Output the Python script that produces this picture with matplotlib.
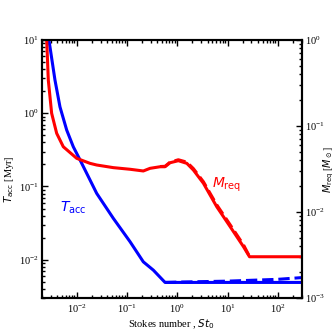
import matplotlib
matplotlib.use("Agg")
import matplotlib.pyplot as plt
from matplotlib.ticker import FuncFormatter, LogLocator
import numpy as np

plt.rcParams['font.family'] = 'serif'
plt.rcParams['font.serif'] = ['Liberation Serif', 'DejaVu Serif']
plt.rcParams['mathtext.fontset'] = 'dejavusans'

# Data: accretion time T_acc [Myr] vs Stokes number
st_t = [2.79e-3, 3.68e-3, 4.63e-3, 6.30e-3, 8.53e-3, 0.0112, 0.0146, 0.0249,
        0.0534, 0.115, 0.211, 0.334, 0.571, 3e2]
t_acc = [10.0, 2.84, 1.22, 0.589, 0.348, 0.242, 0.168, 0.0805,
         0.0367, 0.0176, 0.00936, 0.00721, 0.0049, 0.0049]
st_t_dash = [0.571, 1.0, 10.0, 100.0, 3e2]
t_acc_dash = [0.0049, 0.00495, 0.0051, 0.0054, 0.0057]

# Data: required mass M_req [Msun] vs Stokes number
st_m = [2.52e-3, 2.71e-3, 3.16e-3, 3.98e-3, 5.39e-3, 9.95e-3, 0.0183, 0.0249,
        0.0534, 0.115, 0.211, 0.287, 0.455, 0.571, 0.719, 1.05, 1.55, 2.09,
        3.31, 6.12, 11.3, 20.8, 27.4, 3e2]
m_req = [1.0, 0.343, 0.1406, 0.0822, 0.0574, 0.0421, 0.0368, 0.0352,
         0.0328, 0.0314, 0.0300, 0.0322, 0.0336, 0.0336, 0.0374, 0.0395, 0.0368, 0.0308,
         0.0216, 0.0115, 0.00675, 0.00395, 0.00302, 0.00302]
st_m_dash = [0.455, 0.571, 0.719, 1.05, 1.55, 2.09, 3.31, 6.12, 11.3, 20.8, 27.4]
m_req_dash = [0.0338, 0.0340, 0.0380, 0.0405, 0.0380, 0.0320, 0.0225, 0.0121,
              0.00710, 0.00415, 0.00305]

fig = plt.figure(figsize=(3.36, 3.36), dpi=100)
ax = fig.add_axes([0.124, 0.113, 0.774, 0.768])
ax2 = ax.twinx()

ax.plot(st_t, t_acc, color='blue', lw=2.2)
ax.plot(st_t_dash, t_acc_dash, color='blue', lw=2.2, ls='--')
ax2.plot(st_m_dash, m_req_dash, color='red', lw=2.2, ls='--')
ax2.plot(st_m, m_req, color='red', lw=2.2)

ax.set_xscale('log')
ax.set_yscale('log')
ax2.set_yscale('log')
ax.set_xlim(2e-3, 3e2)
ax.set_ylim(3e-3, 10)
ax2.set_ylim(1e-3, 1)

fmt = FuncFormatter(lambda v, p: r'$\mathregular{10^{%d}}$' % round(np.log10(v)))
for a in (ax, ax2):
    a.yaxis.set_major_formatter(fmt)
    a.yaxis.set_major_locator(LogLocator(base=10, numticks=10))
    a.yaxis.set_minor_locator(LogLocator(base=10, subs=np.arange(2, 10), numticks=10))
    a.tick_params(which='both', direction='in', labelsize=7.5, width=1, pad=2)
    a.tick_params(which='major', length=4)
    a.tick_params(which='minor', length=2.5)
    for s in a.spines.values():
        s.set_linewidth(1.5)
ax.xaxis.set_major_formatter(fmt)
ax.xaxis.set_major_locator(LogLocator(base=10, numticks=10))
ax.xaxis.set_minor_locator(LogLocator(base=10, subs=np.arange(2, 10), numticks=10))
ax.tick_params(axis='x', which='both', top=True, pad=3)
ax.tick_params(axis='y', which='both', right=False)

ax.set_xlabel(r'Stokes number , $St_0$', fontsize=7.5, labelpad=2)
ax.set_ylabel(r'$T_{\rm acc}$ [Myr]', fontsize=7.5)
ax2.set_ylabel(r'$M_{\rm req}$ [$M_\odot$]', fontsize=7)
ax.yaxis.set_label_coords(-0.098, 0.46)
ax2.yaxis.set_label_coords(1.078, 0.5)

ax.text(0.0047, 0.045, r'$T_{\rm acc}$', color='blue', fontsize=10)
ax2.text(5.0, 0.019, r'$M_{\rm req}$', color='red', fontsize=10)

fig.savefig('out.png', dpi=100)
